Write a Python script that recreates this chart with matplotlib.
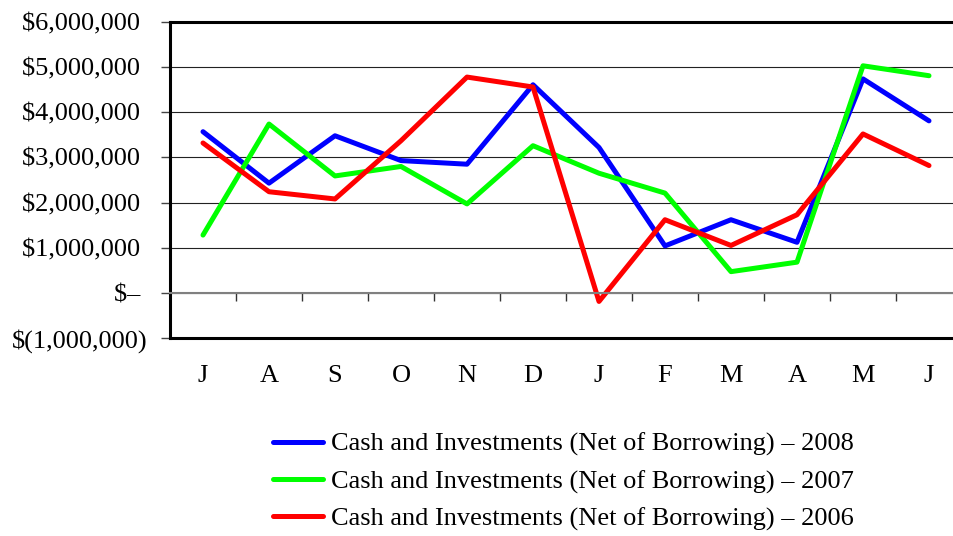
import matplotlib
matplotlib.use('Agg')
import matplotlib.pyplot as plt
from matplotlib.ticker import FuncFormatter

months = ['J', 'A', 'S', 'O', 'N', 'D', 'J', 'F', 'M', 'A', 'M', 'J']
cash_2008 = [3.57, 2.43, 3.48, 2.93, 2.85, 4.61, 3.22, 1.04, 1.62, 1.12, 4.74, 3.81]
cash_2007 = [1.28, 3.74, 2.59, 2.80, 1.97, 3.26, 2.65, 2.21, 0.47, 0.68, 5.03, 4.81]
cash_2006 = [3.32, 2.24, 2.08, 3.37, 4.78, 4.56, -0.19, 1.62, 1.05, 1.73, 3.52, 2.82]
labels = ['Cash and Investments (Net of Borrowing) \u2013 2008',
          'Cash and Investments (Net of Borrowing) \u2013 2007',
          'Cash and Investments (Net of Borrowing) \u2013 2006']

plt.rcParams['font.family'] = ['Liberation Serif', 'DejaVu Serif']
fs = 19

fig = plt.figure(figsize=(9.54, 5.36), dpi=100)
ax = fig.add_axes([170 / 954, 1 - 338 / 536, 792 / 954, 316 / 536])

x = list(range(len(months)))
ax.plot(x, [v * 1e6 for v in cash_2008], color='#0000ff', lw=3.6, label=labels[0], solid_capstyle='round')
ax.plot(x, [v * 1e6 for v in cash_2007], color='#00ff00', lw=3.6, label=labels[1], solid_capstyle='round')
ax.plot(x, [v * 1e6 for v in cash_2006], color='#ff0000', lw=3.6, label=labels[2], solid_capstyle='round')

ax.set_xlim(-0.5, len(months) - 0.5)
ax.set_ylim(-1e6, 6e6)
ax.set_yticks([i * 1e6 for i in range(-1, 7)])


def money(v, pos):
    m = int(round(v))
    if m == 0:
        return '$\u2013 '
    if m < 0:
        return '$({:,})'.format(-m)
    return '${:,} '.format(m)


ax.yaxis.set_major_formatter(FuncFormatter(money))
ax.tick_params(axis='y', direction='out', length=6.5, width=1, color='#444444', labelsize=fs, pad=10)
ax.yaxis.grid(True, color='#222222', lw=0.8)
ax.set_axisbelow(True)

# category axis at zero
ax.spines['bottom'].set_position(('data', 0))
ax.spines['bottom'].set_color('#808080')
ax.spines['bottom'].set_linewidth(1.5)
ax.set_xticks(x)
ax.set_xticklabels(months)
ax.set_xticks([i + 0.5 for i in range(len(months) - 1)], minor=True)
ax.tick_params(axis='x', which='major', length=0, labelsize=fs, pad=52)
ax.tick_params(axis='x', which='minor', direction='out', length=6, width=1, color='#333333')
ax.axhline(-1e6, color='black', lw=2.2, clip_on=False)

ax.spines['left'].set_linewidth(2.2)
ax.spines['top'].set_linewidth(2.2)
ax.spines['right'].set_visible(False)

ax.legend(loc='upper left', bbox_to_anchor=(262 / 954, 1 - 422 / 536),
          bbox_transform=fig.transFigure, frameon=False, fontsize=fs,
          handlelength=1.9, handletextpad=0.3, labelspacing=0.5, borderaxespad=0)

fig.savefig('out.png', dpi=100)
